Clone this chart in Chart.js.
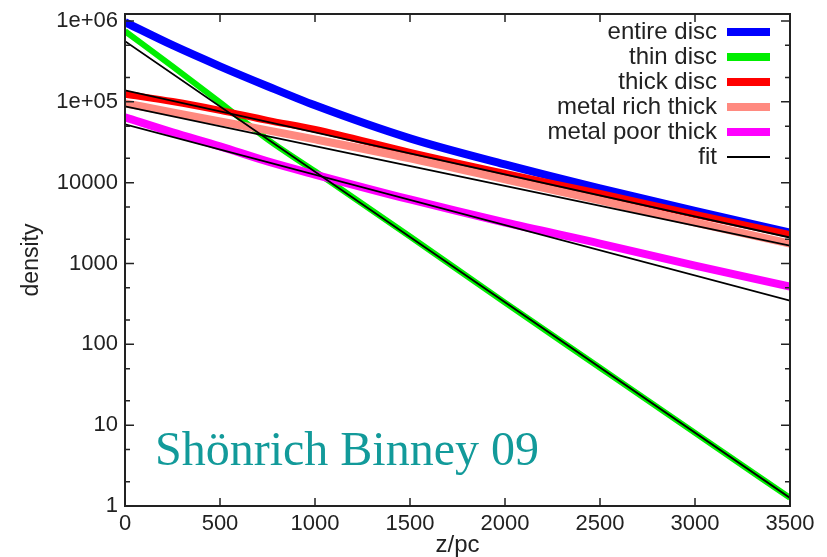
<!DOCTYPE html>
<html lang="en">
<head>
<meta charset="UTF-8">
<title>Disc density vs height</title>
<style>
  body { margin: 0; background: #fff; }
  .wrap { position: relative; width: 827px; height: 557px; }
  .note {
    position: absolute;
    left: 155px;
    top: 425px;
    font-family: "Liberation Serif", "Times New Roman", serif;
    font-size: 48px;
    line-height: 1;
    color: #129a9a;
    white-space: nowrap;
  }
</style>
</head>
<body>
<div class="wrap">
  <canvas id="densityChart" width="827" height="557"></canvas>
  <div class="note">Shönrich Binney 09</div>
</div>

<script src="https://cdn.jsdelivr.net/npm/chart.js"></script>
<script>
const zSample = [0, 250, 500, 750, 1000, 1500, 2000, 2500, 3000, 3500];
const entireDisc = [9.66e5, 5.01e5, 2.75e5, 1.56e5, 9.05e4, 3.53e4, 1.68e4, 8480, 4460, 2415];
const thinDisc = [7.48e5, 2.75e5, 9.86e4, 3.43e4, 1.38e4, 2155, 328, 51.3, 8.03, 1.26];
const thickDisc = [1.24e5, 1.01e5, 7.85e4, 5.90e4, 4.56e4, 2.37e4, 1.30e4, 7350, 4040, 2280];
const metalRichThick = [9.58e4, 7.41e4, 5.73e4, 4.43e4, 3.43e4, 2.00e4, 1.10e4, 6020, 3215, 1765];
const metalPoorThick = [6.43e4, 4.19e4, 2.81e4, 1.83e4, 1.26e4, 6190, 3215, 1765, 942, 517];

// exponential fits, end points only
const zFit = [0, 3500];
const thinFit = [5.62e5, 1.26];
const thickFit = [1.39e5, 2094];
const metalRichFit = [8.8e4, 1667];
const metalPoorFit = [5.25e4, 347];

const zTicks = [0, 500, 1000, 1500, 2000, 2500, 3000, 3500];
const densityTicks = [1, 10, 100, 1000, 10000, 1e5, 1e6];
const densityLabels = ['1', '10', '100', '1000', '10000', '1e+05', '1e+06'];

const pts = (xs, ys) => xs.map((x, i) => ({x: x, y: ys[i]}));

function curve(label, xs, ys, color, width, order) {
    return {
        label: label,
        data: pts(xs, ys),
        borderColor: color,
        backgroundColor: color,
        borderWidth: width,
        pointRadius: 0,
        cubicInterpolationMode: 'monotone',
        order: order
    };
}

const datasets = [
    curve('entire disc', zSample, entireDisc, '#0000ff', 8, 5),
    curve('thin disc', zSample, thinDisc, '#00ee00', 6, 4),
    curve('thick disc', zSample, thickDisc, '#ff0000', 7, 3),
    curve('metal rich thick', zSample, metalRichThick, '#ff8a80', 8, 2),
    curve('metal poor thick', zSample, metalPoorThick, '#ff00ff', 8, 1),
    curve('fit', zFit, thinFit, '#000000', 1.8, 0),
    curve('fit', zFit, thickFit, '#000000', 1.8, 0),
    curve('fit', zFit, metalRichFit, '#000000', 1.8, 0),
    curve('fit', zFit, metalPoorFit, '#000000', 1.8, 0)
];

// box round the plot with gnuplot style inward ticks on all four sides
const frameTicks = {
    id: 'frameTicks',
    afterDatasetsDraw(chart) {
        const {ctx, chartArea: a, scales: {x, y}} = chart;
        ctx.save();
        ctx.strokeStyle = '#222';
        ctx.lineWidth = 2;
        ctx.strokeRect(a.left, a.top, a.right - a.left, a.bottom - a.top);
        ctx.lineWidth = 1.5;
        ctx.beginPath();
        zTicks.forEach(z => {
            const px = x.getPixelForValue(z);
            ctx.moveTo(px, a.bottom); ctx.lineTo(px, a.bottom - 8);
            ctx.moveTo(px, a.top); ctx.lineTo(px, a.top + 8);
        });
        densityTicks.forEach(d => {
            [[1, 9], [2, 5], [5, 5]].forEach(([m, len]) => {
                const v = d * m;
                if (v > y.max) return;
                const py = y.getPixelForValue(v);
                ctx.moveTo(a.left, py); ctx.lineTo(a.left + len, py);
                ctx.moveTo(a.right, py); ctx.lineTo(a.right - len, py);
            });
        });
        ctx.stroke();
        ctx.restore();
    },
    afterDraw(chart) {
        // key in the top right corner, text right aligned, sample on the right
        const {ctx} = chart;
        const seen = [];
        ctx.save();
        ctx.font = '24px "Liberation Sans", Arial, sans-serif';
        ctx.textAlign = 'right';
        ctx.textBaseline = 'middle';
        let row = 0;
        chart.data.datasets.forEach(ds => {
            if (seen.includes(ds.label)) return;
            seen.push(ds.label);
            const cy = 32 + row * 25;
            ctx.fillStyle = '#222';
            ctx.fillText(ds.label, 717, cy);
            ctx.strokeStyle = ds.borderColor;
            ctx.lineWidth = ds.label === 'fit' ? 2 : 8;
            ctx.beginPath();
            ctx.moveTo(727, cy);
            ctx.lineTo(770, cy);
            ctx.stroke();
            row++;
        });
        ctx.restore();
    }
};

Chart.defaults.font.family = '"Liberation Sans", Arial, sans-serif';
Chart.defaults.color = '#222';

new Chart(document.getElementById('densityChart'), {
    type: 'line',
    data: {datasets: datasets},
    options: {
        responsive: false,
        animation: false,
        devicePixelRatio: 1,
        layout: {padding: {left: 0, top: 14, right: 37, bottom: 0}},
        plugins: {legend: {display: false}, tooltip: {enabled: false}},
        scales: {
            x: {
                type: 'linear',
                min: 0,
                max: 3500,
                grid: {display: false, drawTicks: false},
                border: {display: false},
                afterBuildTicks: s => { s.ticks = zTicks.map(v => ({value: v})); },
                afterFit: s => { s.height = 51; s.paddingLeft = 0; s.paddingRight = 0; },
                ticks: {
                    font: {size: 22},
                    padding: 5,
                    maxRotation: 0,
                    autoSkip: false,
                    callback: v => String(v)
                },
                title: {
                    display: true,
                    text: 'z/pc',
                    font: {size: 24, lineHeight: 1},
                    padding: {top: 0, bottom: 0}
                }
            },
            y: {
                type: 'logarithmic',
                min: 1,
                max: 1.22e6,
                grid: {display: false, drawTicks: false},
                border: {display: false},
                afterBuildTicks: s => { s.ticks = densityTicks.map(v => ({value: v})); },
                afterFit: s => { s.width = 125; s.paddingTop = 0; s.paddingBottom = 0; },
                ticks: {
                    font: {size: 22},
                    padding: 7,
                    autoSkip: false,
                    callback: v => densityLabels[densityTicks.indexOf(v)]
                },
                title: {
                    display: true,
                    text: 'density',
                    font: {size: 23, lineHeight: 1},
                    padding: {top: 20, bottom: 0}
                }
            }
        }
    },
    plugins: [frameTicks]
});
</script>
</body>
</html>
